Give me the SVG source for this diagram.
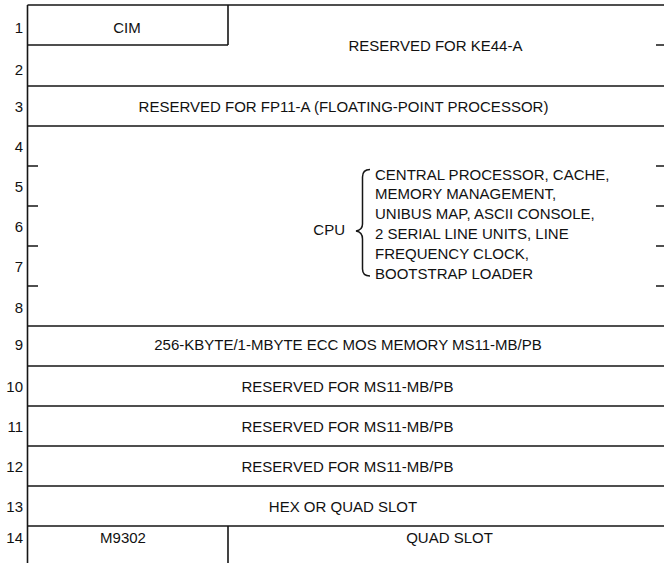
<svg xmlns="http://www.w3.org/2000/svg" width="664" height="563" viewBox="0 0 664 563">
<style>
.t{font-family:"Liberation Sans",Arial,sans-serif;font-size:15px;fill:#111}
.c{text-anchor:middle}
.n{text-anchor:end}
.l{stroke:#161616;stroke-width:1.6;fill:none}
</style>
<rect width="664" height="563" fill="#fff"/>
<g id="connectors">
<path class="l" d="M27.5 5H664M27.5 5V563M27.5 45H228M228 5V45M27.5 86H664M27.5 126H664M27.5 326H664M27.5 366H664M27.5 406H664M27.5 446H664M27.5 486H664M27.5 526H664M228 526V563"/>
<path class="l" d="M27.5 166H38M27.5 206H38M27.5 246H38M27.5 286H38M656 45H664M656 166H664M656 206H664M656 246H664M656 286H664"/>
</g>
<g id="numbers">
<text class="t n" x="23" y="33">1</text>
<text class="t n" x="23" y="75">2</text>
<text class="t n" x="23" y="112">3</text>
<text class="t n" x="23" y="152">4</text>
<text class="t n" x="23" y="192">5</text>
<text class="t n" x="23" y="232">6</text>
<text class="t n" x="23" y="272">7</text>
<text class="t n" x="23" y="313">8</text>
<text class="t n" x="23" y="350">9</text>
<text class="t n" x="23" y="392">10</text>
<text class="t n" x="23" y="432">11</text>
<text class="t n" x="23" y="472">12</text>
<text class="t n" x="23" y="512">13</text>
<text class="t n" x="23" y="543">14</text>
</g>
<g id="cim"><text class="t c" x="127" y="33">CIM</text></g>
<g id="ke44"><text class="t c" x="435.5" y="51">RESERVED FOR KE44-A</text></g>
<g id="fp11"><text class="t c" x="343.5" y="112">RESERVED FOR FP11-A (FLOATING-POINT PROCESSOR)</text></g>
<g id="cpu">
<text class="t n" x="345" y="235">CPU</text>
<path d="M370 169.5Q362.5 169.5 362.5 177V224Q362.5 230 356 231Q362.5 232 362.5 239V269Q362.5 276 370 276" stroke="#161616" stroke-width="1.5" fill="none"/>
<text class="t" x="375" y="179.5">CENTRAL PROCESSOR, CACHE,</text>
<text class="t" x="375" y="199.3">MEMORY MANAGEMENT,</text>
<text class="t" x="375" y="219.1">UNIBUS MAP, ASCII CONSOLE,</text>
<text class="t" x="375" y="238.9">2 SERIAL LINE UNITS, LINE</text>
<text class="t" x="375" y="258.7">FREQUENCY CLOCK,</text>
<text class="t" x="375" y="278.5">BOOTSTRAP LOADER</text>
</g>
<g id="mem"><text class="t c" x="348" y="350">256-KBYTE/1-MBYTE ECC MOS MEMORY MS11-MB/PB</text></g>
<g id="res10"><text class="t c" x="347.5" y="392">RESERVED FOR MS11-MB/PB</text></g>
<g id="res11"><text class="t c" x="347.5" y="432">RESERVED FOR MS11-MB/PB</text></g>
<g id="res12"><text class="t c" x="347.5" y="472">RESERVED FOR MS11-MB/PB</text></g>
<g id="hex"><text class="t c" x="343" y="512">HEX OR QUAD SLOT</text></g>
<g id="m9302"><text class="t c" x="123" y="543">M9302</text></g>
<g id="quad"><text class="t c" x="449.5" y="543">QUAD SLOT</text></g>
</svg>
